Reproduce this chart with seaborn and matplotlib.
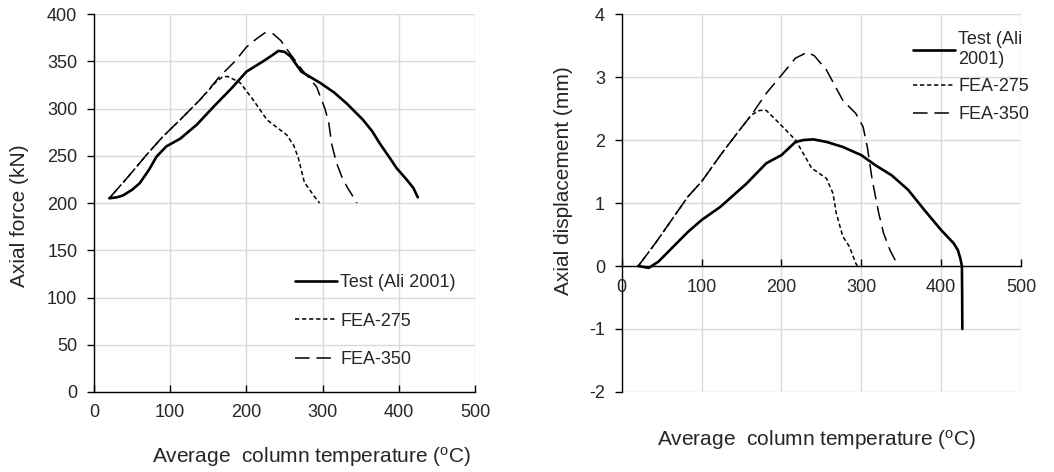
import matplotlib
matplotlib.use('Agg')
import matplotlib.pyplot as plt
import seaborn as sns

# --- datos: fuerza axial ---
t_test_f = [20, 30, 38, 50, 60, 72, 82, 95, 113, 135, 157, 180, 200, 222, 235, 242,
            250, 258, 272, 297, 315, 332, 353, 365, 375, 387, 397, 410, 419, 425]
f_test = [205, 206, 208, 214, 221, 235, 249, 260, 268, 283, 302, 321, 339, 350, 357, 361,
          360, 355, 339, 327, 317, 305, 288, 276, 263, 249, 237, 225, 216, 206]

t_275_f = [20, 45, 69, 90, 113, 140, 160, 168, 175, 183, 192, 209, 227, 240, 253, 262,
           268, 272, 276, 283, 290, 296]
f_275 = [205, 228, 251, 270, 288, 310, 328, 333, 334, 331, 327, 309, 288, 280, 272, 261,
         248, 235, 222, 214, 206, 200]

t_350_f = [20, 45, 69, 90, 113, 140, 165, 185, 200, 212, 224, 235, 245, 251, 262, 273,
           292, 303, 308, 312, 318, 325, 332, 339, 345]
f_350 = [205, 228, 251, 270, 288, 310, 334, 350, 365, 373, 380, 379, 372, 365, 353, 341,
         323, 300, 285, 262, 243, 228, 217, 208, 200]

# --- datos: desplazamiento axial ---
t_test_d = [20.7, 33.8, 46, 62.4, 82.8, 100, 123.6, 156.4, 180.9, 200, 217.6, 227.8, 240,
            256.4, 276.8, 300, 317.6, 338, 358.6, 378.9, 400, 415.7, 421, 424, 426, 426.3, 426.5]
d_test = [0, -0.03, 0.07, 0.28, 0.54, 0.73, 0.94, 1.31, 1.63, 1.76, 1.97, 2.0, 2.01,
          1.97, 1.89, 1.76, 1.60, 1.44, 1.21, 0.89, 0.57, 0.36, 0.25, 0.12, 0, -0.5, -1.0]

t_275_d = [20.7, 42, 82.8, 100, 123.6, 144, 162.5, 172.7, 180.9, 193, 205.4, 217.6, 229.9,
           238, 244, 256.4, 264.6, 268.6, 276.8, 285, 293.2, 295]
d_275 = [0, 0.36, 1.10, 1.34, 1.76, 2.1, 2.40, 2.47, 2.47, 2.32, 2.16, 2.0, 1.73,
         1.55, 1.50, 1.39, 1.15, 0.84, 0.47, 0.31, 0.04, 0]

t_350_d = [20.7, 42, 82.8, 100, 123.6, 144, 162.5, 180.9, 200, 217.6, 231.9, 241, 256.4,
           276.8, 293.2, 302.2, 307.5, 313.6, 321.8, 327.9, 336, 344.2, 345]
d_350 = [0, 0.36, 1.10, 1.34, 1.76, 2.1, 2.40, 2.74, 3.03, 3.30, 3.39, 3.34, 3.11,
         2.63, 2.42, 2.21, 1.89, 1.37, 0.84, 0.52, 0.25, 0.05, 0]

labels = ['Test (Ali 2001)', 'FEA-275', 'FEA-350']

sns.set_theme(style='white')
plt.rcParams['font.family'] = ['Liberation Sans', 'DejaVu Sans']
plt.rcParams['mathtext.fontset'] = 'custom'
plt.rcParams['mathtext.rm'] = 'Liberation Sans'
plt.rcParams['axes.unicode_minus'] = False

grid_color = '#d9d9d9'
xlabel = r'Average  column temperature ($\mathrm{^o}$C)'

fig = plt.figure(figsize=(10.54, 4.72), dpi=100)
ax1 = fig.add_axes([0.0892, 0.1695, 0.3615, 0.8008])
ax2 = fig.add_axes([0.5899, 0.1695, 0.3788, 0.8008])


def draw(ax, series, names):
    styles = [(1.9, None), (1.1, (2.8, 1.8)), (1.1, (9.5, 4.5))]
    for (x, y), name, (lw, dash) in zip(series, names, styles):
        sns.lineplot(x=x, y=y, ax=ax, sort=False, estimator=None, color='black',
                     linewidth=lw, label=name)
        if dash is not None:
            ax.lines[-1].set_dashes(dash)
    ax.set_xlim(0, 500)
    ax.set_xticks(range(0, 501, 100))
    ax.grid(True, color=grid_color, linewidth=1)
    for s in ['top', 'right']:
        ax.spines[s].set_visible(False)
    ax.spines['left'].set_color('black')
    ax.spines['bottom'].set_color('black')
    ax.spines['left'].set_linewidth(1)
    ax.spines['bottom'].set_linewidth(1)
    ax.tick_params(axis='y', direction='out', length=5, width=1, color='black',
                   labelsize=13, pad=7, left=True)
    ax.tick_params(axis='x', direction='in', length=5, width=1, color='black',
                   labelsize=13, pad=9, bottom=True)


# --- Gráfico 1: fuerza ---
draw(ax1, [(t_test_f, f_test), (t_275_f, f_275), (t_350_f, f_350)], labels)
ax1.set_ylim(0, 400)
ax1.set_yticks(range(0, 401, 50))
ax1.set_ylabel('Axial force (kN)', fontsize=15)
ax1.yaxis.set_label_coords(-0.17, 0.466)
ax1.set_xlabel(xlabel, fontsize=15)
ax1.xaxis.set_label_coords(0.572, -0.14)
ax1.legend(loc='upper left', bbox_to_anchor=(0.528, 0.312), frameon=False, fontsize=13,
           handlelength=2.3, handletextpad=0.2, labelspacing=1.2, borderpad=0,
           borderaxespad=0)

# --- Gráfico 2: desplazamiento ---
draw(ax2, [(t_test_d, d_test), (t_275_d, d_275), (t_350_d, d_350)],
     ['Test (Ali\n2001)', 'FEA-275', 'FEA-350'])
ax2.set_ylim(-2, 4)
ax2.set_yticks(range(-2, 5))
ax2.spines['bottom'].set_position(('data', 0))
ax2.set_ylabel('Axial displacement (mm)', fontsize=15)
ax2.yaxis.set_label_coords(-0.122, 0.56)
ax2.set_xlabel(xlabel, fontsize=15)
ax2.xaxis.set_label_coords(0.488, -0.095)
ax2.legend(loc='upper left', bbox_to_anchor=(0.73, 0.955), frameon=False, fontsize=13,
           handlelength=2.3, handletextpad=0.2, labelspacing=0.6, borderpad=0,
           borderaxespad=0)

plt.savefig('out.png', dpi=100)
plt.close()
